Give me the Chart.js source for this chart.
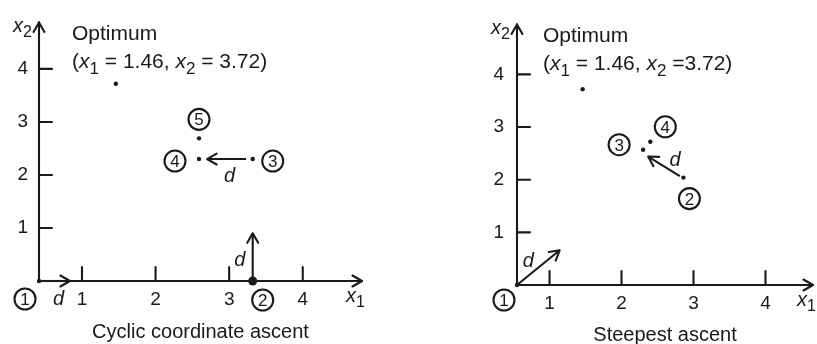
<!DOCTYPE html>
<html>
<head>
<meta charset="utf-8">
<script src="https://cdn.jsdelivr.net/npm/chart.js@4.4.1/dist/chart.umd.min.js"></script>
<style>
  body { margin: 0; background: #fefefd; }
  #left { position: absolute; left: 0; top: 0; }
  #right { position: absolute; left: 410px; top: 0; }
</style>
</head>
<body>
<canvas id="left" width="410" height="344"></canvas>
<canvas id="right" width="407" height="344"></canvas>
<script>
// values
const xTicks = [1, 2, 3, 4];
const yTicks = [1, 2, 3, 4];
const optimum = [1.46, 3.72];

const cyclicLabels = ["1", "2", "3", "4", "5"];
const cyclicX = [0, 3.32, 3.32, 2.59, 2.59];
const cyclicY = [0, 0, 2.30, 2.30, 2.69];
const cyclicArrows = [
  [[0, 0], [0.72, 0]],
  [[3.32, 0], [3.32, 0.9]],
  [[3.23, 2.30], [2.70, 2.30]],
];

const steepestLabels = ["1", "2", "3", "4"];
const steepestX = [0, 2.86, 2.30, 2.40];
const steepestY = [0, 2.04, 2.57, 2.72];
const steepestArrows = [
  [[0, 0], [1.14, 0.66]],
  [[2.81, 2.07], [2.37, 2.44]],
];

const ink = "#1a1a1a";
const family = "'Liberation Sans', Arial, sans-serif";
Chart.defaults.font.family = family;
Chart.defaults.color = ink;

// linear axis whose first unit (0..1) is drawn narrower than the others
class StretchScale extends Chart.LinearScale {
  warp(v) {
    const r = this.options.firstUnit || 1;
    return v < 1 ? v * r : r + (v - 1);
  }
  unwarp(w) {
    const r = this.options.firstUnit || 1;
    return w < r ? w / r : 1 + (w - r);
  }
  getPixelForValue(value) {
    if (value === null || isNaN(value)) return NaN;
    const a = this.warp(this.min), b = this.warp(this.max);
    return this.getPixelForDecimal((this.warp(value) - a) / (b - a));
  }
  getValueForPixel(pixel) {
    const a = this.warp(this.min), b = this.warp(this.max);
    return this.unwarp(a + this.getDecimalForPixel(pixel) * (b - a));
  }
}
StretchScale.id = "stretch";
Chart.register(StretchScale);

// text with italic variables and subscripts: parts = [[text, "" | "i" | "sub"], ...]
function drawRich(ctx, parts, x, y, size, align) {
  const fontFor = (s) =>
    s === "i" ? `italic ${size}px ${family}` : s === "sub" ? `${Math.round(size * 0.8)}px ${family}` : `${size}px ${family}`;
  let total = 0;
  parts.forEach(([t, s]) => { ctx.font = fontFor(s); total += ctx.measureText(t).width; });
  let cx = align === "right" ? x - total : align === "center" ? x - total / 2 : x;
  ctx.textAlign = "left";
  ctx.textBaseline = "alphabetic";
  parts.forEach(([t, s]) => {
    ctx.font = fontFor(s);
    ctx.fillText(t, cx, s === "sub" ? y + size * 0.25 : y);
    cx += ctx.measureText(t).width;
  });
}

function line(ctx, x0, y0, x1, y1) {
  ctx.beginPath();
  ctx.moveTo(x0, y0);
  ctx.lineTo(x1, y1);
  ctx.stroke();
}

function arrowHead(ctx, x, y, ang) {
  const len = 11, spread = 0.52;
  ctx.beginPath();
  ctx.moveTo(x - len * Math.cos(ang - spread), y - len * Math.sin(ang - spread));
  ctx.lineTo(x, y);
  ctx.lineTo(x - len * Math.cos(ang + spread), y - len * Math.sin(ang + spread));
  ctx.stroke();
}

const diagramPlugin = {
  id: "diagram",
  afterDatasetsDraw(chart, args, opts) {
    const { ctx, chartArea: a, scales: { x, y } } = chart;
    ctx.save();
    ctx.strokeStyle = ink;
    ctx.fillStyle = ink;
    ctx.lineWidth = 2.1;
    ctx.lineCap = "round";
    ctx.lineJoin = "round";

    // axes with arrows
    line(ctx, a.left, a.bottom, a.left, a.top);
    arrowHead(ctx, a.left, a.top, -Math.PI / 2);
    line(ctx, a.left, a.bottom, a.right, a.bottom);
    arrowHead(ctx, a.right, a.bottom, 0);

    // tick marks point into the plot
    y.ticks.forEach((t) => {
      const py = y.getPixelForValue(t.value);
      line(ctx, a.left, py, a.left + 13, py);
    });
    x.ticks.forEach((t) => {
      const px = x.getPixelForValue(t.value);
      line(ctx, px, a.bottom, px, a.bottom - 14);
    });

    drawRich(ctx, [["x", "i"], ["2", "sub"]], a.left - 7, a.top + 10, 20, "right");
    drawRich(ctx, [["x", "i"], ["1", "sub"]], a.right - 16, a.bottom + 21, 20, "left");

    chart.data.datasets.forEach((ds, i) => {
      const pts = chart.getDatasetMeta(i).data;
      if (ds.arrow) {
        const [p0, p1] = pts;
        arrowHead(ctx, p1.x, p1.y, Math.atan2(p1.y - p0.y, p1.x - p0.x));
        drawRich(ctx, [["d", "i"]], (p0.x + p1.x) / 2 + ds.textOffset[0], (p0.y + p1.y) / 2 + ds.textOffset[1] + 7, 20, "center");
      }
      if (ds.stepLabels) {
        pts.forEach((p, k) => {
          const [dx, dy] = ds.badgeOffsets[k];
          const cx = p.x + dx, cy = p.y + dy;
          ctx.beginPath();
          ctx.arc(cx, cy, 10.5, 0, Math.PI * 2);
          ctx.stroke();
          drawRich(ctx, [[ds.stepLabels[k], ""]], cx, cy + 6.1, 17, "center");
        });
      }
    });

    // optimum caption
    const tx = a.left + opts.captionX;
    drawRich(ctx, [["Optimum", ""]], tx, a.top + 18, 21, "left");
    drawRich(ctx, [
      ["(", ""], ["x", "i"], ["1", "sub"], [` = ${optimum[0]}, `, ""],
      ["x", "i"], ["2", "sub"], [` =${opts.eqGap}${optimum[1]})`, ""],
    ], tx, a.top + 46, 21, "left");
    ctx.restore();
  },
};

function makeChart(id, g) {
  const datasets = [
    {
      label: "Optimum",
      data: [{ x: optimum[0], y: optimum[1] }],
      pointRadius: 2.2,
      pointBackgroundColor: ink,
      pointBorderWidth: 0,
      clip: false,
    },
    {
      label: "Iterates",
      data: g.xs.map((v, i) => ({ x: v, y: g.ys[i] })),
      stepLabels: g.labels,
      badgeOffsets: g.badges,
      pointRadius: g.radii,
      pointBackgroundColor: ink,
      pointBorderWidth: 0,
      clip: false,
    },
  ];
  g.arrows.forEach((ar, i) => {
    datasets.push({
      label: "d",
      data: ar.map(([vx, vy]) => ({ x: vx, y: vy })),
      arrow: true,
      textOffset: g.dOffsets[i],
      showLine: true,
      pointRadius: 0,
      borderColor: ink,
      borderWidth: 2.1,
      clip: false,
    });
  });

  return new Chart(document.getElementById(id), {
    type: "scatter",
    data: { datasets },
    plugins: [diagramPlugin],
    options: {
      responsive: false,
      animation: false,
      events: [],
      layout: { padding: g.padding },
      plugins: {
        legend: { display: false },
        tooltip: { enabled: false },
        diagram: { captionX: g.captionX, eqGap: g.eqGap },
      },
      scales: {
        x: {
          type: "stretch",
          firstUnit: g.firstUnit,
          min: 0,
          max: g.xMax,
          afterBuildTicks: (s) => { s.ticks = xTicks.map((v) => ({ value: v })); },
          afterFit: (s) => { s.height = g.xHeight; },
          grid: { display: false, drawTicks: false },
          border: { display: false },
          ticks: { padding: 7, font: { size: 19 }, color: ink },
          title: { display: true, text: g.title, font: { size: 20 }, color: ink, padding: { top: 0, bottom: g.titlePad } },
        },
        y: {
          type: "linear",
          min: 0,
          max: g.yMax,
          afterBuildTicks: (s) => { s.ticks = yTicks.map((v) => ({ value: v })); },
          afterFit: (s) => { s.width = g.yWidth; },
          grid: { display: false, drawTicks: false },
          border: { display: false },
          ticks: { padding: g.yPad, font: { size: 19 }, color: ink },
        },
      },
    },
  });
}

makeChart("left", {
  title: "Cyclic coordinate ascent",
  xs: cyclicX, ys: cyclicY, labels: cyclicLabels, arrows: cyclicArrows,
  radii: [2.2, 4.5, 2.2, 2.2, 2.2],
  badges: [[-14, 18], [10, 19], [20, 2], [-24, 2], [0, -19]],
  dOffsets: [[4, 17], [-13, 2], [3, 16]],
  padding: { top: 14, right: 48, left: 0, bottom: 0 },
  firstUnit: 0.584, xMax: 4.805, yMax: 4.877,
  xHeight: 63, yWidth: 39, yPad: 11, titlePad: 0,
  captionX: 33, eqGap: " ",
});

makeChart("right", {
  title: "Steepest ascent",
  xs: steepestX, ys: steepestY, labels: steepestLabels, arrows: steepestArrows,
  radii: [2.2, 2.2, 2.2, 2.2],
  badges: [[-13, 15], [6, 21], [-24, -5], [15, -15]],
  dOffsets: [[-10, -8], [11, -7]],
  padding: { top: 15, right: 0, left: 0, bottom: 0 },
  firstUnit: 0.452, xMax: 4.66, yMax: 4.95,
  xHeight: 59, yWidth: 107, yPad: 13, titlePad: -3,
  captionX: 26, eqGap: "",
});
</script>
</body>
</html>
